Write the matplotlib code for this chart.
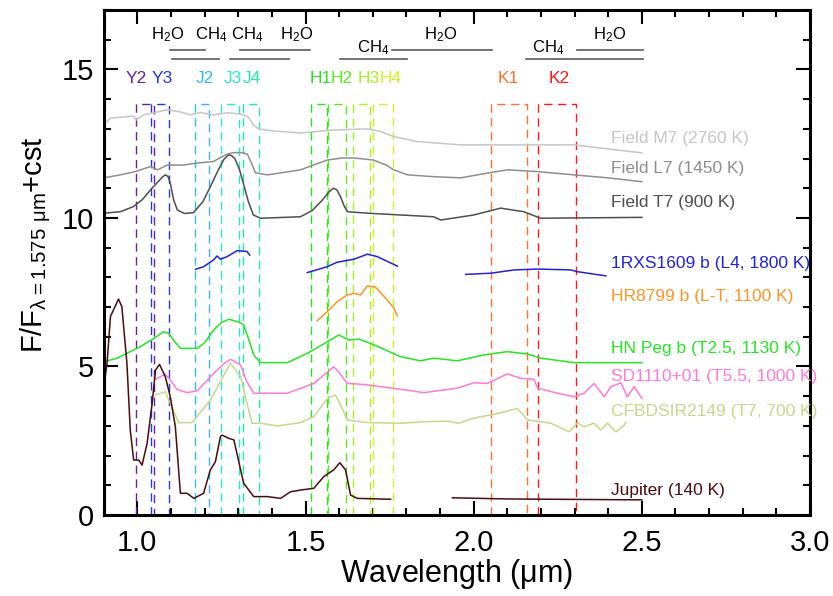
import matplotlib
matplotlib.use("Agg")
import matplotlib.pyplot as plt
from matplotlib.ticker import MultipleLocator, FormatStrFormatter

plt.rcParams['font.family'] = ['Liberation Sans', 'DejaVu Sans']
plt.rcParams['mathtext.default'] = 'regular'

# ---- spectra (wavelength in um, normalised flux + offset) ----
m7_wl = [0.90, 0.920, 0.988, 0.997, 1.018, 1.048, 1.089, 1.128, 1.158, 1.188, 1.226, 1.268,
         1.307, 1.330, 1.345, 1.360, 1.405, 1.485, 1.583, 1.685, 1.723, 1.762, 1.833, 1.881,
         1.961, 2.051, 2.298, 2.50]
m7_fl = [13.13, 13.36, 13.43, 13.30, 13.47, 13.54, 13.64, 13.57, 13.47, 13.55, 13.47, 13.54,
         13.50, 13.40, 13.13, 13.00, 12.93, 12.86, 12.96, 13.00, 12.91, 12.74, 12.57, 12.53,
         12.46, 12.46, 12.46, 12.19]

l7_wl = [0.90, 0.949, 0.994, 1.039, 1.060, 1.089, 1.137, 1.179, 1.226, 1.250, 1.268, 1.286,
         1.310, 1.327, 1.342, 1.351, 1.387, 1.485, 1.565, 1.610, 1.643, 1.702, 1.740, 1.762,
         1.804, 1.881, 1.961, 2.051, 2.101, 2.190, 2.298, 2.399, 2.50]
l7_fl = [11.35, 11.45, 11.56, 11.73, 11.62, 11.78, 11.78, 11.85, 11.90, 12.05, 12.15, 12.20,
         12.20, 12.15, 11.78, 11.52, 11.45, 11.62, 11.95, 12.02, 12.02, 11.95, 11.78, 11.62,
         11.45, 11.39, 11.35, 11.53, 11.62, 11.56, 11.45, 11.35, 11.22]

t7_wl = [0.90, 0.949, 0.988, 1.015, 1.039, 1.060, 1.075, 1.083, 1.091, 1.098, 1.108, 1.119,
         1.140, 1.167, 1.195, 1.217, 1.240, 1.258, 1.271, 1.280, 1.290, 1.303, 1.315, 1.330,
         1.345, 1.366, 1.485, 1.520, 1.550, 1.570, 1.583, 1.593, 1.604, 1.615, 1.625, 1.685,
         1.881, 1.902, 2.000, 2.080, 2.149, 2.199, 2.50]
t7_fl = [10.16, 10.21, 10.38, 10.62, 10.94, 11.20, 11.38, 11.45, 11.40, 11.17, 10.60, 10.27,
         10.15, 10.18, 10.55, 11.05, 11.60, 11.98, 12.12, 12.10, 12.00, 11.65, 11.18, 10.55,
         10.10, 9.99, 10.04, 10.25, 10.60, 10.88, 11.00, 10.95, 10.72, 10.40, 10.21, 10.16,
         10.04, 9.93, 10.10, 10.33, 10.21, 9.99, 10.02]

# 1RXS1609 b, three separate bands
rxs_j_wl = [1.173, 1.197, 1.227, 1.237, 1.247, 1.267, 1.297, 1.326, 1.334]
rxs_j_fl = [8.27, 8.36, 8.59, 8.72, 8.61, 8.70, 8.90, 8.87, 8.75]
rxs_h_wl = [1.505, 1.565, 1.594, 1.644, 1.684, 1.713, 1.773]
rxs_h_fl = [8.16, 8.36, 8.51, 8.61, 8.78, 8.70, 8.38]
rxs_k_wl = [1.976, 2.051, 2.120, 2.190, 2.289, 2.309, 2.393]
rxs_k_fl = [8.10, 8.14, 8.25, 8.28, 8.25, 8.19, 8.05]

hr_wl = [1.535, 1.565, 1.594, 1.624, 1.644, 1.664, 1.684, 1.708, 1.743, 1.763, 1.773]
hr_fl = [6.54, 6.85, 7.18, 7.41, 7.46, 7.41, 7.71, 7.67, 7.24, 6.96, 6.70]

hn_wl = [0.90, 0.940, 1.009, 1.050, 1.078, 1.093, 1.110, 1.128, 1.178, 1.200, 1.227, 1.250,
         1.272, 1.300, 1.316, 1.330, 1.346, 1.366, 1.446, 1.505, 1.560, 1.599, 1.629, 1.659,
         1.693, 1.783, 1.842, 1.882, 1.951, 2.031, 2.100, 2.160, 2.199, 2.299, 2.398, 2.50]
hn_fl = [5.16, 5.28, 5.67, 5.95, 6.17, 6.12, 5.85, 5.61, 5.61, 5.80, 6.23, 6.48,
         6.59, 6.50, 6.40, 5.95, 5.39, 5.13, 5.13, 5.44, 5.80, 6.06, 5.89, 5.92,
         5.78, 5.33, 5.19, 5.28, 5.19, 5.39, 5.50, 5.42, 5.28, 5.13, 5.13, 5.13]

sd_wl = [1.054, 1.083, 1.098, 1.118, 1.148, 1.178, 1.227, 1.260, 1.277, 1.307, 1.325, 1.346,
         1.446, 1.525, 1.584, 1.600, 1.624, 1.654, 1.684, 1.783, 1.852, 1.951, 2.001, 2.041,
         2.100, 2.140, 2.179, 2.190, 2.249, 2.299, 2.328, 2.358, 2.388, 2.408, 2.438, 2.457,
         2.477, 2.50]
sd_fl = [4.57, 4.74, 4.55, 4.23, 4.12, 4.18, 4.77, 5.12, 5.24, 5.05, 4.50, 4.10,
         4.10, 4.43, 4.99, 4.80, 4.43, 4.41, 4.38, 4.23, 4.12, 4.27, 4.45, 4.43,
         4.75, 4.60, 4.57, 4.27, 4.10, 3.98, 4.10, 4.43, 3.98, 4.32, 4.45, 3.98,
         4.32, 3.93]

cf_wl = [1.054, 1.083, 1.098, 1.123, 1.163, 1.217, 1.250, 1.277, 1.307, 1.325, 1.341, 1.366,
         1.416, 1.485, 1.525, 1.565, 1.589, 1.605, 1.624, 1.684, 1.783, 1.852, 1.922, 1.956,
         2.001, 2.080, 2.130, 2.160, 2.229, 2.284, 2.309, 2.328, 2.358, 2.378, 2.398, 2.423,
         2.448, 2.452]
cf_fl = [4.04, 4.15, 3.76, 3.11, 3.11, 3.87, 4.55, 5.11, 4.66, 3.80, 3.09, 3.09,
         3.00, 3.11, 3.31, 3.93, 4.04, 3.70, 3.20, 3.11, 3.09, 3.14, 3.16, 3.09,
         3.26, 3.44, 3.59, 3.20, 3.09, 2.80, 3.11, 2.97, 3.09, 2.86, 3.09, 2.80,
         3.03, 3.11]

jup_wl = [0.90, 0.910, 0.920, 0.929, 0.944, 0.954, 0.969, 0.979, 0.989, 1.004, 1.014, 1.029,
          1.044, 1.054, 1.066, 1.083, 1.098, 1.113, 1.128, 1.148, 1.168, 1.197, 1.217, 1.232,
          1.247, 1.252, 1.272, 1.287, 1.316, 1.346, 1.386, 1.426, 1.455, 1.485, 1.525, 1.554,
          1.584, 1.602, 1.619, 1.634, 1.654, 1.753]
jup_fl = [4.30, 5.11, 6.68, 6.90, 7.27, 7.01, 5.11, 2.86, 1.85, 1.85, 1.68, 2.41,
          3.76, 4.88, 5.07, 4.66, 3.98, 2.97, 0.73, 0.73, 0.56, 0.73, 1.52, 1.79,
          2.64, 2.69, 2.58, 2.53, 1.07, 0.62, 0.62, 0.56, 0.78, 0.84, 0.90, 1.29,
          1.52, 1.76, 1.52, 0.67, 0.56, 0.53]
jup_k_wl = [1.937, 2.100, 2.50]
jup_k_fl = [0.58, 0.54, 0.51]

labels = ['Field M7 (2760 K)', 'Field L7 (1450 K)', 'Field T7 (900 K)',
          '1RXS1609 b (L4, 1800 K)', 'HR8799 b (L-T, 1100 K)', 'HN Peg b (T2.5, 1130 K)',
          'SD1110+01 (T5.5, 1000 K)', 'CFBDSIR2149 (T7, 700 K)', 'Jupiter (140 K)']
label_y = [12.69, 11.65, 10.51, 8.48, 7.37, 5.59, 4.65, 3.47, 0.84]
colors = ['#c6c6c6', '#8e8e8e', '#4e4e4e', '#2222d8', '#ff9424', '#22e622',
          '#ff7ad8', '#c6d88a', '#4a0c0c']

# ---- filters (name, lower edge, upper edge) ----
filt_names = ['Y2', 'Y3', 'J2', 'J3', 'J4', 'H1', 'H2', 'H3', 'H4', 'K1', 'K2']
filt_lo = [0.996, 1.041, 1.170, 1.250, 1.313, 1.515, 1.568, 1.642, 1.701, 2.051, 2.191]
filt_hi = [1.049, 1.095, 1.214, 1.301, 1.361, 1.563, 1.619, 1.693, 1.759, 2.158, 2.304]
filt_label_x = [0.997, 1.074, 1.202, 1.283, 1.342, 1.545, 1.607, 1.687, 1.753, 2.104, 2.253]
filt_colors = ['#6a1fa0', '#2238e0', '#30b8f8', '#28e8d0', '#20e8a8', '#28e020',
               '#58e820', '#a8f020', '#d0f028', '#ff7028', '#ff1818']

# ---- molecular absorption bands ----
h2o_lo = [1.096, 1.305, 1.758, 2.306]
h2o_hi = [1.202, 1.513, 2.054, 2.504]
h2o_label_x = [1.091, 1.473, 1.903, 2.405]
ch4_lo = [1.103, 1.275, 1.604, 2.155]
ch4_hi = [1.244, 1.452, 1.803, 2.504]
ch4_label_x = [1.220, 1.327, 1.701, 2.222]

fig = plt.figure(figsize=(8.33, 5.96), dpi=100)
ax = fig.add_axes([0.1245, 0.1359, 0.8479, 0.8473])

# filter boxes: dashed, from the bottom up to a common top
top = 13.85
for lo, hi, c in zip(filt_lo, filt_hi, filt_colors):
    ax.plot([lo, lo, hi, hi], [0, top, top, 0], color=c, lw=1.0, ls=(0, (6, 4)))
for name, x, c in zip(filt_names, filt_label_x, filt_colors):
    ax.text(x, 14.68, name, color=c, fontsize=12.5, ha='center', va='center')

# spectra
series = [(m7_wl, m7_fl), (l7_wl, l7_fl), (t7_wl, t7_fl)]
for (wl, fl), c in zip(series, colors[:3]):
    ax.plot(wl, fl, color=c, lw=1.1)
for wl, fl in [(rxs_j_wl, rxs_j_fl), (rxs_h_wl, rxs_h_fl), (rxs_k_wl, rxs_k_fl)]:
    ax.plot(wl, fl, color=colors[3], lw=1.1)
ax.plot(hr_wl, hr_fl, color=colors[4], lw=1.1)
ax.plot(hn_wl, hn_fl, color=colors[5], lw=1.1)
ax.plot(sd_wl, sd_fl, color=colors[6], lw=1.1)
ax.plot(cf_wl, cf_fl, color=colors[7], lw=1.1)
ax.plot(jup_wl, jup_fl, color=colors[8], lw=1.1)
ax.plot(jup_k_wl, jup_k_fl, color=colors[8], lw=1.1)

for txt, y, c in zip(labels, label_y, colors):
    ax.text(2.408, y, txt, color=c, fontsize=12.5, ha='left', va='center')

# molecule bands at the top
for lo, hi in zip(h2o_lo, h2o_hi):
    ax.plot([lo, hi], [15.67, 15.67], color='#5a5a5a', lw=1.2)
for lo, hi in zip(ch4_lo, ch4_hi):
    ax.plot([lo, hi], [15.36, 15.36], color='#5a5a5a', lw=1.2)
for x in h2o_label_x:
    ax.text(x, 16.16, 'H$_2$O', fontsize=12, ha='center', va='center')
for i, x in enumerate(ch4_label_x):
    y = 16.16 if i < 2 else 15.72
    ax.text(x, y, 'CH$_4$', fontsize=12, ha='center', va='center')

ax.set_xlim(0.9, 3.0)
ax.set_ylim(0, 17)
ax.xaxis.set_major_locator(MultipleLocator(0.5))
ax.xaxis.set_minor_locator(MultipleLocator(0.1))
ax.yaxis.set_major_locator(MultipleLocator(5))
ax.yaxis.set_minor_locator(MultipleLocator(1))
ax.xaxis.set_major_formatter(FormatStrFormatter('%.1f'))
ax.tick_params(which='both', direction='in', top=True, right=True, width=1.5, labelsize=21)
ax.tick_params(which='major', length=10)
ax.tick_params(which='minor', length=5)
ax.tick_params(axis='x', pad=10)
ax.tick_params(axis='y', pad=7)
for s in ax.spines.values():
    s.set_linewidth(2.2)

ax.set_xlabel('Wavelength ($\\mu$m)', fontsize=22, labelpad=0)
ax.set_ylabel('F/F$_{\\lambda=1.575\\ \\mu m}$+cst', fontsize=21, labelpad=6)
ax.yaxis.label.set_y(0.535)

fig.savefig('out.png', dpi=100)
